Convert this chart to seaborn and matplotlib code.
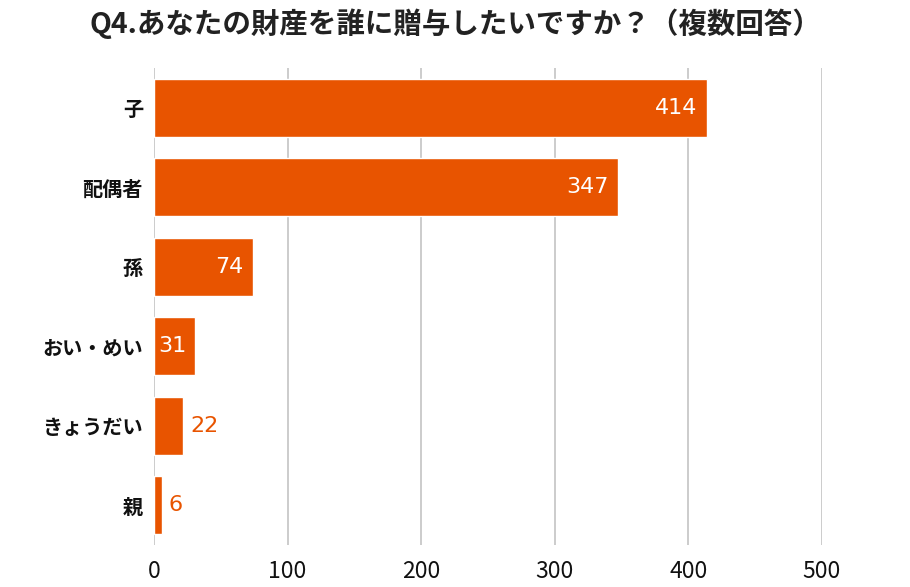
import matplotlib
matplotlib.use("Agg")
import matplotlib.pyplot as plt
import seaborn as sns
import pandas as pd

categories = ["子", "配偶者", "孫", "おい・めい", "きょうだい", "親"]
values = [414, 347, 74, 31, 22, 6]
xticks = [0, 100, 200, 300, 400, 500]
title = "Q4.あなたの財産を誰に贈与したいですか？（複数回答）"

sns.set_theme(style="white")
plt.rcParams['font.family'] = ['Noto Sans CJK JP', 'DejaVu Sans']

color = "#E85400"
df = pd.DataFrame({"cat": categories, "val": values})

fig = plt.figure(figsize=(9.1, 5.87), dpi=100)
ax = fig.add_axes([154/910, 1-545/587, (822-154)/910, (545-68)/587])
sns.barplot(data=df, y="cat", x="val", color=color, saturation=1, width=0.73, ax=ax, zorder=3)

ax.set_xlim(0, 500)
ax.set_ylim(5.5, -0.5)
ax.set_xticks(xticks)
ax.set_xticklabels([str(t) for t in xticks], fontsize=16.5, color="#111111")
ax.set_xlabel("")
ax.set_ylabel("")
for s in ax.spines.values():
    s.set_visible(False)
ax.grid(axis="x", color="#c8c8c8", linewidth=1.3, zorder=0)
ax.tick_params(axis="x", length=0, pad=11)
ax.tick_params(axis="y", length=0, pad=8)
for lbl in ax.get_yticklabels():
    lbl.set_fontsize(14.5)
    lbl.set_fontweight("bold")
    lbl.set_color("#111111")

for i, v in enumerate(values):
    if v >= 30:
        ax.text(v - 7, i, str(v), ha="right", va="center", color="white",
                fontsize=16, family=["DejaVu Sans"], zorder=4)
    else:
        ax.text(v + 5, i, str(v), ha="left", va="center", color=color,
                fontsize=16, family=["DejaVu Sans"], zorder=4)

fig.text(0.5, 1-24/587, title, ha="center", va="center", fontsize=20.5,
         fontweight="bold", color="#222222")

fig.savefig("out.png", dpi=100)
